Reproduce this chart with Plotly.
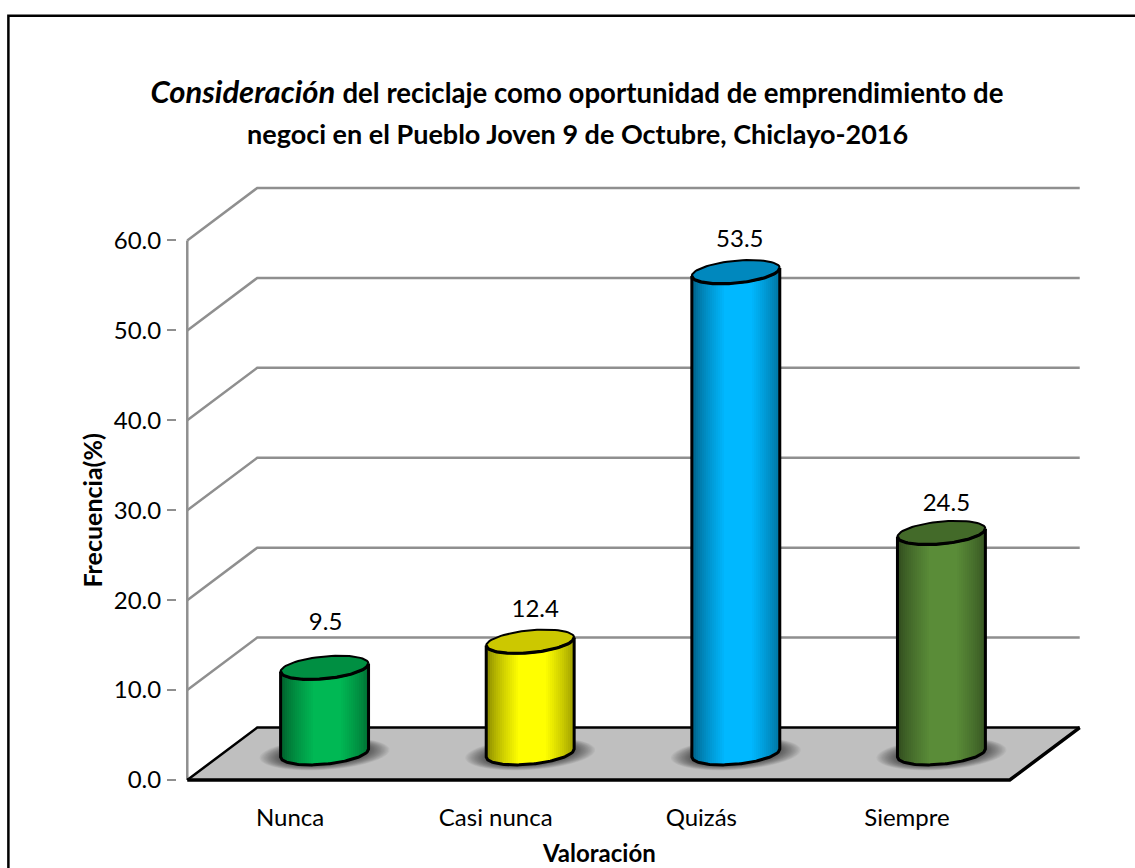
import numpy as np
import plotly.graph_objects as go

CATEGORIES = ["Nunca", "Casi nunca", "Quizás", "Siempre"]
VALUES = [9.5, 12.4, 53.5, 24.5]
Y_TICKS = [0, 10, 20, 30, 40, 50, 60]
BODY_COLORS = [(0, 184, 84), (255, 255, 0), (0, 184, 255), (90, 140, 56)]
TOP_COLORS = ["#008F42", "#CCC800", "#0088BE", "#436A29"]
LABEL_DX_PX = [1, 5, 4, 5]
LABEL_LIFT_PX = [44, 31, 31, 28]

FONT = "Lato, Carlito, Calibri, sans-serif"
PX_X, PX_Y = 205.75, 9.0
LEFT, FLOOR_Y = 187, 780
DEPTH_X = 70 / PX_X
DEPTH_Y = 52.5 / PX_Y
X_RANGE = [-0.05, 4 + DEPTH_X + 0.05]
Y_RANGE = [-1.0, 60 + DEPTH_Y + 1.0]
W, H = 1135, 868
M_L = LEFT + X_RANGE[0] * PX_X
M_R = W - (LEFT + X_RANGE[1] * PX_X)
M_T = FLOOR_Y - Y_RANGE[1] * PX_Y
M_B = H - (FLOOR_Y - Y_RANGE[0] * PX_Y)

A_PX, TILT_PX, B_PX = 44.0, 4.0, 11.2
CX_SHIFT = 34.5 / PX_X
CY_BASE = 3.0
GRID = "#8F8F8F"


def paper_x(px):
    return (px - M_L) / (W - M_L - M_R)


def paper_y(py):
    return 1 - (py - M_T) / (H - M_T - M_B)


def ellipse(cx, cy, a_px=A_PX, tilt_px=TILT_PX, b_px=B_PX, n=72):
    t = np.linspace(0, 2 * np.pi, n)
    return cx + a_px * np.cos(t) / PX_X, cy + (tilt_px * np.cos(t) + b_px * np.sin(t)) / PX_Y


def path(xs, ys, close=True):
    body = " L ".join(f"{x:.4f} {y:.4f}" for x, y in zip(xs, ys))
    return "M " + body + (" Z" if close else "")


def line_shape(xs, ys, color, width):
    return dict(type="path", path=path(xs, ys, False), layer="below",
                line=dict(color=color, width=width))


shapes = []

# walls and gridlines
for v in Y_TICKS[1:]:
    shapes.append(line_shape([0, DEPTH_X, 4 + DEPTH_X], [v, v + DEPTH_Y, v + DEPTH_Y], GRID, 2.5))
shapes.append(line_shape([0, 0], [0, 60], GRID, 2.5))

# floor
fx = [0, DEPTH_X, 4 + DEPTH_X, 4]
fy = [0, DEPTH_Y, DEPTH_Y, 0]
shapes.append(dict(type="path", path=path(fx, fy), layer="below", fillcolor="#BFBFBF", line_width=0))
shapes.append(line_shape([0, DEPTH_X, 4 + DEPTH_X], [0, DEPTH_Y, DEPTH_Y], "#000000", 2.5))
shapes.append(line_shape([4 + DEPTH_X, 4, 0], [DEPTH_Y, 0, 0], "#000000", 3.5))

# soft shadows
LAYERS = 16
for i in range(len(VALUES)):
    cx = i + 0.5 + CX_SHIFT
    for k in range(LAYERS):
        f = k / (LAYERS - 1)
        ex, ey = ellipse(cx, CY_BASE - 0.1, 65 - 21 * f, 4.0, 16 - 5 * f)
        shapes.append(dict(type="path", path=path(ex, ey), layer="below",
                           fillcolor="rgba(0,0,0,0.045)", line_width=0))

fig = go.Figure()

# cylinder bodies: shaded vertical strips drawn as bars
N = 44
edges = np.linspace(-1, 1, N + 1)
u = (edges[:-1] + edges[1:]) / 2
for i, (val, rgb) in enumerate(zip(VALUES, BODY_COLORS)):
    cx = i + 0.5 + CX_SHIFT
    xs = cx + u * A_PX / PX_X
    base = CY_BASE + (TILT_PX * u - B_PX * np.sqrt(1 - u ** 2)) / PX_Y
    shade = 0.55 + 0.45 * np.clip((1 - np.abs(u - 0.05)) / 0.7, 0, 1) ** 0.75
    colors = [f"rgb({int(rgb[0]*s)},{int(rgb[1]*s)},{int(rgb[2]*s)})" for s in shade]
    fig.add_trace(go.Bar(x=xs, y=[val] * N, base=base, width=2 * A_PX / PX_X / N * 1.05,
                         marker=dict(color=colors, line_width=0), showlegend=False, hoverinfo="skip"))

# outlines and top caps
for i, (val, top) in enumerate(zip(VALUES, TOP_COLORS)):
    cx = i + 0.5 + CX_SHIFT
    ux = np.linspace(-1, 1, 60)
    arc_x = cx + ux * A_PX / PX_X
    arc_y = CY_BASE + (TILT_PX * ux - B_PX * np.sqrt(1 - ux ** 2)) / PX_Y
    ox = np.concatenate([[arc_x[0]], arc_x, [arc_x[-1]]])
    oy = np.concatenate([[arc_y[0] + val], arc_y, [arc_y[-1] + val]])
    fig.add_trace(go.Scatter(x=ox, y=oy, mode="lines", line=dict(color="black", width=3),
                             showlegend=False, hoverinfo="skip", cliponaxis=False))
    ex, ey = ellipse(cx, CY_BASE + val)
    fig.add_trace(go.Scatter(x=ex, y=ey, mode="lines", fill="toself", fillcolor=top,
                             line=dict(color="black", width=2),
                             showlegend=False, hoverinfo="skip", cliponaxis=False))
    fig.add_trace(go.Scatter(x=arc_x, y=arc_y + val, mode="lines", line=dict(color="black", width=3.2),
                             showlegend=False, hoverinfo="skip", cliponaxis=False))

# value labels
label_x = [i + 0.5 + CX_SHIFT + dx / PX_X for i, dx in enumerate(LABEL_DX_PX)]
label_y = [CY_BASE + v + lift / PX_Y for v, lift in zip(VALUES, LABEL_LIFT_PX)]
fig.add_trace(go.Scatter(x=label_x, y=label_y, mode="text", text=[f"{v:.1f}" for v in VALUES],
                         textposition="middle center", textfont=dict(family=FONT, size=24, color="black"),
                         showlegend=False, hoverinfo="skip", cliponaxis=False))

annotations = [
    dict(xref="paper", yref="paper", x=paper_x(577), y=paper_y(133), xanchor="center", yanchor="middle",
         text="<b>negoci en el Pueblo Joven 9 de Octubre, Chiclayo-2016</b>", showarrow=False,
         font=dict(family=FONT, size=27, color="black")),
    dict(xref="x", yref="paper", x=2, y=paper_y(853), xanchor="center", yanchor="middle",
         text="<b>Valoración</b>", showarrow=False, font=dict(family=FONT, size=24, color="black")),
    dict(xref="paper", yref="y", x=paper_x(92), y=30, xanchor="center", yanchor="middle", textangle=-90,
         text="<b>Frecuencia(%)</b>", showarrow=False, font=dict(family=FONT, size=25, color="black")),
]

# outer frame
shapes.append(dict(type="rect", xref="paper", yref="paper", layer="below",
                   x0=paper_x(8), x1=paper_x(W + 20), y0=paper_y(H + 20), y1=paper_y(15),
                   line=dict(color="black", width=2.5)))

fig.update_layout(
    width=W, height=H,
    margin=dict(l=M_L, r=M_R, t=M_T, b=M_B, pad=0, autoexpand=False),
    paper_bgcolor="white", plot_bgcolor="rgba(0,0,0,0)", barmode="overlay", bargap=0,
    showlegend=False, shapes=shapes, annotations=annotations,
    title=dict(
        text='<span style="font-size:31px"><b><i>Consideración</i></b></span> '
             "<b>del reciclaje como oportunidad de emprendimiento de</b>",
        x=577 / W, xanchor="center", xref="container", y=1 - 93 / H, yanchor="middle", yref="container",
        font=dict(family=FONT, size=27.6, color="black"),
    ),
    xaxis=dict(range=X_RANGE, tickmode="array", tickvals=[i + 0.5 for i in range(4)], ticktext=CATEGORIES,
               showgrid=False, zeroline=False, showline=False, ticks="", ticklabelstandoff=12,
               tickfont=dict(family=FONT, size=24, color="black"), fixedrange=True),
    yaxis=dict(range=Y_RANGE, tickmode="array", tickvals=Y_TICKS, ticktext=[f"{v:.1f}" for v in Y_TICKS],
               showgrid=False, zeroline=False, showline=False, ticks="outside", ticklen=9, tickwidth=1.5,
               tickcolor=GRID, ticklabelstandoff=1,
               tickfont=dict(family=FONT, size=24, color="black"), fixedrange=True),
)
fig.write_html("out.html", config={"displayModeBar": False},
               post_script="document.body.style.margin='0';document.documentElement.style.overflow='hidden';")
